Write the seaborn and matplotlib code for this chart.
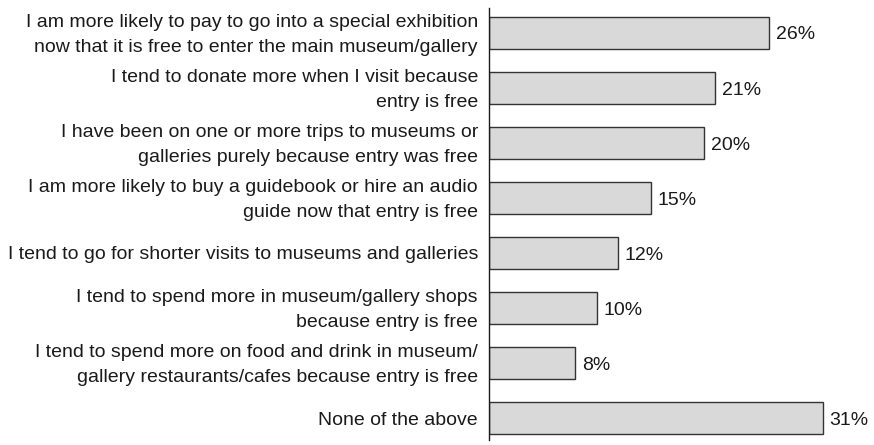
import matplotlib
matplotlib.use("Agg")
import matplotlib.pyplot as plt
import matplotlib.transforms as mtransforms
import seaborn as sns
import pandas as pd

statements = [
    "I am more likely to pay to go into a special exhibition\nnow that it is free to enter the main museum/gallery",
    "I tend to donate more when I visit because\nentry is free",
    "I have been on one or more trips to museums or\ngalleries purely because entry was free",
    "I am more likely to buy a guidebook or hire an audio\nguide now that entry is free",
    "I tend to go for shorter visits to museums and galleries",
    "I tend to spend more in museum/gallery shops\nbecause entry is free",
    "I tend to spend more on food and drink in museum/\ngallery restaurants/cafes because entry is free",
    "None of the above",
]
percent = [26, 21, 20, 15, 12, 10, 8, 31]

df = pd.DataFrame({"statement": statements, "percent": percent})

sns.set_theme(style="white")
plt.rcParams["font.family"] = ["Liberation Sans", "DejaVu Sans"]

fig = plt.figure(figsize=(8.74, 4.45), dpi=100)
ax = fig.add_axes([0.5595, 0.011, 0.44, 0.971])

sns.barplot(data=df, x="percent", y="statement", orient="h", color="#d9d9d9",
            edgecolor="#333333", linewidth=1.0, width=0.58, saturation=1, ax=ax)

for i, v in enumerate(percent):
    ax.text(v + 0.6, i + 0.04, f"{v}%", va="center", ha="left", fontsize=14, color="#1a1a1a")

ax.set_xlim(0, 35.7)
ax.set_ylim(7.4, -0.45)
ax.set_xlabel("")
ax.set_ylabel("")
ax.set_xticks([])
for side in ["top", "right", "bottom"]:
    ax.spines[side].set_visible(False)
ax.spines["left"].set_color("#1a1a1a")
ax.spines["left"].set_linewidth(1.0)
ax.tick_params(axis="y", length=0, pad=8, labelsize=14, labelcolor="#1a1a1a")

# two-line statements sit a little above the bar centre
lift = mtransforms.ScaledTranslation(0, 4 / 100, fig.dpi_scale_trans)
for lbl in ax.get_yticklabels():
    if "\n" in lbl.get_text():
        lbl.set_linespacing(1.62)
        lbl.set_transform(lbl.get_transform() + lift)

fig.savefig("out.png", dpi=100)
